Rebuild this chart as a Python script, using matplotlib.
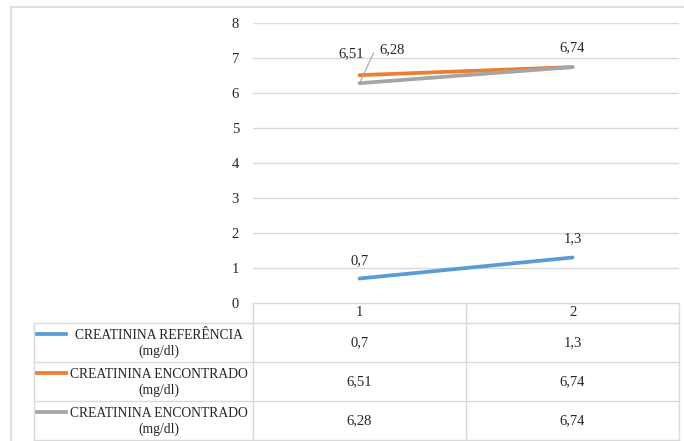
import matplotlib
matplotlib.use("Agg")
import matplotlib.pyplot as plt
import matplotlib.transforms as mtransforms

plt.rcParams['font.family'] = ['Liberation Serif', 'DejaVu Serif']

categories = ["1", "2"]
referencia = [0.7, 1.3]
encontrado_1 = [6.51, 6.74]
encontrado_2 = [6.28, 6.74]
series_names = ["CREATININA REFERÊNCIA\n(mg/dl)",
                "CREATININA ENCONTRADO\n(mg/dl)",
                "CREATININA ENCONTRADO\n(mg/dl)"]
colors = ["#5B9BD5", "#ED7D31", "#A5A5A5"]
yticks = [0, 1, 2, 3, 4, 5, 6, 7, 8]


def fmt(v):
    return ("%g" % v).replace(".", ",")


W, H = 684, 441
FS = 10.5
TXT = "#262626"
fig = plt.figure(figsize=(W / 100, H / 100), dpi=100)

# axes pour le cadre et la table (coordonnees en pixels)
bg = fig.add_axes([0, 0, 1, 1])
bg.set_xlim(0, W)
bg.set_ylim(H, 0)
bg.axis("off")

ax = fig.add_axes([253 / W, (H - 303) / H, (679 - 253) / W, (303 - 23) / H])
ax.set_xlim(0.5, 2.5)
ax.set_ylim(0, 8)
ax.set_yticks(yticks)
ax.set_yticklabels([str(t) for t in yticks], fontsize=FS, color=TXT)
ax.set_xticks([])
ax.tick_params(axis="y", length=0, pad=10)
for s in ax.spines.values():
    s.set_visible(False)
ax.patch.set_alpha(0)
for t in yticks[1:]:
    ax.axhline(t, color="#D9D9D9", lw=1, zorder=0)

x = [1, 2]
all_series = [referencia, encontrado_1, encontrado_2]
for vals, c in zip(all_series, colors):
    ax.plot(x, vals, color=c, lw=2.7, solid_capstyle="round", zorder=3)

# etiquettes de donnees
lab = dict(fontsize=FS, color=TXT, ha="center", va="bottom", textcoords="offset points")
ax.annotate(fmt(referencia[0]), (1, referencia[0]), xytext=(0, 8), **lab)
ax.annotate(fmt(referencia[1]), (2, referencia[1]), xytext=(0, 9), **lab)
ax.annotate(fmt(encontrado_1[0]), (1, encontrado_1[0]), xytext=(-6, 11), **lab)
ax.annotate(fmt(encontrado_1[1]), (2, encontrado_1[1]), xytext=(0, 9), **lab)
ax.annotate(fmt(encontrado_2[0]), (1, encontrado_2[0]), xytext=(14, 24), textcoords="offset points",
            fontsize=FS, color=TXT, ha="left", va="center",
            arrowprops=dict(arrowstyle="-", color="#A6A6A6", lw=0.8,
                            connectionstyle="angle,angleA=0,angleB=65,rad=0",
                            shrinkA=3, shrinkB=0))

# cadre exterieur
grid_c = "#D9D9D9"
bg.plot([11, 11], [7, H], color=grid_c, lw=1.2)
bg.plot([11, W], [7, 7], color=grid_c, lw=1.2)

# table de donnees
rows_y = [323, 362, 401, 440]
bg.plot([253, 679], [303, 303], color=grid_c, lw=1)
for y in rows_y:
    bg.plot([34, 679], [y, y], color=grid_c, lw=1)
bg.plot([34, 34], [323, 440], color=grid_c, lw=1)
for xv in [253, 466, 679]:
    bg.plot([xv, xv], [303, 440], color=grid_c, lw=1)

tr = mtransforms.blended_transform_factory(ax.transData, bg.transData)
for i, cat in enumerate(categories):
    bg.text(x[i], 313, cat, transform=tr, fontsize=FS, color=TXT, ha="center", va="center")

for r, (name, vals, c) in enumerate(zip(series_names, all_series, colors)):
    y0, y1 = rows_y[r], rows_y[r + 1]
    yc = (y0 + y1) / 2
    bg.plot([37, 66], [y0 + 11, y0 + 11], color=c, lw=2.7)
    bg.text(159, yc + 1, name, fontsize=9.8, color=TXT, ha="center", va="center",
            multialignment="center", linespacing=1.2)
    for i, v in enumerate(vals):
        bg.text(x[i], yc, fmt(v), transform=tr, fontsize=FS, color=TXT, ha="center", va="center")

fig.savefig("out.png", dpi=100)
